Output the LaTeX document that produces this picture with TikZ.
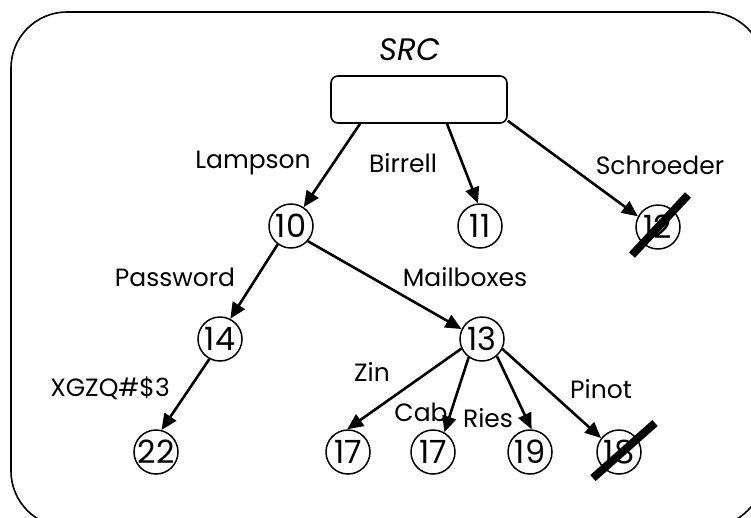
\documentclass[tikz,border=0pt]{standalone}
\usepackage{fontspec}
\setmainfont{Poppins}
\usetikzlibrary{arrows.meta,calc}
\tikzset{
  num/.style={circle,draw,line width=1.5pt,minimum size=44pt,inner sep=0pt,
    font=\fontsize{32}{34}\selectfont},
  lbl/.style={inner sep=0pt,font=\fontsize{25}{29}\selectfont},
  arc/.style={line width=2.6pt,-{Triangle[length=16pt,width=14pt]}},
  strike/.style={line width=8pt},
  frame/.style={line width=1.6pt,rounded corners=56pt},
}
\begin{document}
\begin{tikzpicture}[x=1pt,y=-1pt]
  \useasboundingbox (0,0) rectangle (751,517);
  \clip (0,0) rectangle (751,517);
  % outer frame, running off the right and bottom edges
  \draw[frame] (11,12) rectangle (764,527);

  % root directory box
  \node[draw,line width=1.6pt,rounded corners=7pt,minimum width=176pt,
        minimum height=47pt,inner sep=0pt] (src) at (419,99.5) {};
  \node[lbl,font=\fontsize{31}{35}\selectfont\itshape] (srclbl) at (410,50) {SRC};

  % directory entries
  \node[num] (n10) at (291,226) {10};
  \node[num] (n11) at (480,226) {11};
  \node[num] (n12) at (658,227) {12};
  \node[num] (n14) at (220,339) {14};
  \node[num] (n13) at (482,339) {13};
  \node[num] (n22) at (156,452) {22};
  \node[num] (n17a) at (348,452) {17};
  \node[num] (n17b) at (433,452) {17};
  \node[num] (n19) at (530,452) {19};
  \node[num] (n18) at (619,452) {18};

  % name labels
  \node[lbl] (lampson) at (253,163) {Lampson};
  \node[lbl] (birrell) at (403,163) {Birrell};
  \node[lbl] (schroeder) at (660,165) {Schroeder};
  \node[lbl] (password) at (175,277) {Password};
  \node[lbl] (mailboxes) at (465,277) {Mailboxes};
  \node[lbl] (xgzq) at (110,388) {XGZQ\#\$3};
  \node[lbl] (zin) at (372,372) {Zin};
  \node[lbl] (cab) at (421,412) {Cab};
  \node[lbl] (ries) at (488,418) {Ries};
  \node[lbl] (pinot) at (601,389) {Pinot};

  % lookup arcs
  \draw[arc] ([xshift=-59pt]src.south) -- (n10.56);
  \draw[arc] ([xshift=28pt]src.south) -- (n11.95);
  \draw[arc] ([yshift=3pt]src.south east) -- (n12.152);
  \draw[arc] (n10.234) -- (n14.63);
  \draw[arc] (n10.318) -- (n13.154);
  \draw[arc] (n14.242) -- (n22.76);
  \draw[arc] (n13.205) -- (n17a.92);
  \draw[arc] (n13.234) -- (n17b.60);
  \draw[arc] (n13.311) -- (n19.86);
  \draw[arc] (n13.334) -- (n18.142);

  % deleted entries
  \draw[strike] ($(n12)+(-26,28)$) -- ($(n12)+(30,-32)$);
  \draw[strike] ($(n18)+(-26,26)$) -- ($(n18)+(36,-29)$);
\end{tikzpicture}
\end{document}
